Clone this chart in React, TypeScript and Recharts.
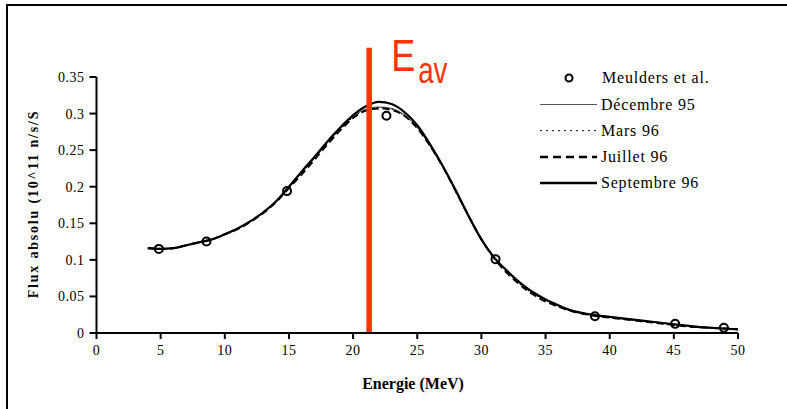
import React from 'react';
import { ComposedChart, Line, Scatter, XAxis, YAxis, ReferenceLine } from 'recharts';

// energy grid of the measured spectra (MeV)
const energies = [4, 5, 6, 7, 8, 9, 10, 11, 12, 13, 14, 15, 16, 17, 18, 19, 20, 21, 22, 23, 24, 25, 26, 27,
  28, 29, 30, 31, 32, 33, 34, 35, 36, 37, 38, 39, 40, 41, 42, 43, 44, 45, 46, 47, 48, 49, 50];

const decembre95 = [0.116, 0.115, 0.116, 0.120, 0.124, 0.128, 0.135, 0.143, 0.153, 0.165, 0.180, 0.199, 0.219,
  0.239, 0.260, 0.279, 0.296, 0.306, 0.309, 0.307, 0.298, 0.281, 0.256, 0.227, 0.194, 0.159, 0.127, 0.103,
  0.084, 0.068, 0.055, 0.045, 0.037, 0.031, 0.027, 0.024, 0.022, 0.020, 0.018, 0.016, 0.014, 0.012, 0.010,
  0.008, 0.007, 0.006, 0.005];

const mars96 = [0.116, 0.115, 0.116, 0.120, 0.124, 0.128, 0.135, 0.143, 0.153, 0.165, 0.180, 0.199, 0.219,
  0.239, 0.259, 0.278, 0.295, 0.305, 0.308, 0.306, 0.297, 0.281, 0.256, 0.227, 0.194, 0.159, 0.127, 0.102,
  0.083, 0.067, 0.054, 0.044, 0.036, 0.030, 0.026, 0.023, 0.021, 0.019, 0.017, 0.015, 0.013, 0.011, 0.010,
  0.008, 0.007, 0.006, 0.005];

const juillet96 = [0.116, 0.115, 0.116, 0.120, 0.124, 0.128, 0.135, 0.142, 0.152, 0.164, 0.179, 0.198, 0.217,
  0.237, 0.258, 0.277, 0.294, 0.304, 0.307, 0.305, 0.297, 0.280, 0.256, 0.227, 0.194, 0.160, 0.128, 0.102,
  0.082, 0.066, 0.053, 0.043, 0.036, 0.030, 0.026, 0.023, 0.021, 0.019, 0.017, 0.015, 0.013, 0.011, 0.009,
  0.008, 0.007, 0.006, 0.005];

const septembre96 = [0.116, 0.115, 0.116, 0.120, 0.124, 0.128, 0.135, 0.143, 0.153, 0.165, 0.180, 0.200, 0.221,
  0.241, 0.262, 0.281, 0.298, 0.310, 0.316, 0.313, 0.302, 0.284, 0.258, 0.228, 0.195, 0.160, 0.128, 0.103,
  0.085, 0.069, 0.056, 0.046, 0.038, 0.031, 0.027, 0.024, 0.022, 0.020, 0.018, 0.016, 0.014, 0.012, 0.010,
  0.008, 0.007, 0.006, 0.005];

// Meulders et al. reference points
const meuldersE = [4.86, 8.57, 14.85, 22.6, 31.1, 38.85, 45.1, 48.9];
const meuldersFlux = [0.115, 0.125, 0.194, 0.297, 0.101, 0.023, 0.0125, 0.0072];

const xTicks = [0, 5, 10, 15, 20, 25, 30, 35, 40, 45, 50];
const yTicks = [0, 0.05, 0.1, 0.15, 0.2, 0.25, 0.3, 0.35];
const eAverage = 21.25;

const toSeries = (vals: number[]) => energies.map((e, i) => ({ x: e, y: vals[i] }));
const meulders = meuldersE.map((e, i) => ({ x: e, y: meuldersFlux[i] }));

const serif = '"Liberation Serif", "Times New Roman", serif';
const tickStyle = { fontSize: 14, fill: '#000', fontFamily: serif, letterSpacing: 0.5 };

const LegendBox = () => {
  const rows = [
    { name: 'Décembre 95', w: 1, dash: undefined, color: '#555' },
    { name: 'Mars 96', w: 1, dash: '2 4', color: '#000' },
    { name: 'Juillet 96', w: 2.5, dash: '8 5', color: '#000' },
    { name: 'Septembre 96', w: 2.5, dash: undefined, color: '#000' },
  ];
  return (
    <svg width={240} height={150} style={{ display: 'block' }}>
      <circle cx={39} cy={18} r={3.5} fill="none" stroke="#000" strokeWidth={2} />
      <text x={72} y={23} fontFamily={serif} fontSize={16} letterSpacing={0.8}>Meulders et al.</text>
      {rows.map((r, i) => {
        const y = 44.5 + i * 26.2;
        return (
          <g key={r.name}>
            <line x1={10} x2={67} y1={y} y2={y} stroke={r.color} strokeWidth={r.w} strokeDasharray={r.dash} />
            <text x={71} y={y + 5} fontFamily={serif} fontSize={16} letterSpacing={0.8}>{r.name}</text>
          </g>
        );
      })}
    </svg>
  );
};

const EavLabel = (props: any) => {
  const vb = props.viewBox || {};
  const x0 = vb.x ?? 369;
  const font = '"Liberation Sans", Arial, sans-serif';
  const ex = x0 + 22;
  const ax = x0 + 49;
  return (
    <g>
      <text x={ex} y={71} fill="#FF3300" fontFamily={font} fontSize={45}
        transform={`translate(${ex} 0) scale(0.8 1) translate(${-ex} 0)`}>E</text>
      <text x={ax} y={83} fill="#FF3300" fontFamily={font} fontSize={37}
        transform={`translate(${ax} 0) scale(0.75 1) translate(${-ax} 0)`}>av</text>
    </g>
  );
};

export default function App() {
  return (
    <div style={{ position: 'absolute', left: 0, top: 0, width: 787, height: 409, background: '#fff' }}>
      <div style={{ position: 'absolute', left: 6, top: 4, width: 781, height: 405, borderTop: '2px solid #000', borderLeft: '2px solid #000' }} />
      <ComposedChart width={787} height={409} margin={{ top: 77, right: 49, left: 0, bottom: 46 }}>
        <XAxis
          type="number"
          dataKey="x"
          domain={[0, 50]}
          ticks={xTicks}
          interval={0}
          height={30}
          tickSize={6}
          tickMargin={6}
          stroke="#000"
          strokeWidth={2}
          tick={tickStyle}
          label={(p: any) => (
            <text x={413} y={389} textAnchor="middle" fontFamily={serif} fontWeight="bold" fontSize={16}>
              Energie (MeV)
            </text>
          )}
        />
        <YAxis
          type="number"
          domain={[0, 0.35]}
          ticks={yTicks}
          interval={0}
          width={96.5}
          tickSize={7}
          tickMargin={5}
          stroke="#000"
          strokeWidth={2}
          tick={tickStyle}
          label={(p: any) => (
            <text x={38} y={204} transform="rotate(-90, 38, 204)" textAnchor="middle" fontFamily={serif}
              fontWeight="bold" fontSize={14} letterSpacing={1.8}>
              Flux absolu (10^11 n/s/S
            </text>
          )}
        />
        <Line data={toSeries(decembre95)} dataKey="y" name="Décembre 95" type="monotone" stroke="#444"
          strokeWidth={1} dot={false} isAnimationActive={false} />
        <Line data={toSeries(mars96)} dataKey="y" name="Mars 96" type="monotone" stroke="#000"
          strokeWidth={1} strokeDasharray="2 3" dot={false} isAnimationActive={false} />
        <Line data={toSeries(juillet96)} dataKey="y" name="Juillet 96" type="monotone" stroke="#000"
          strokeWidth={2} strokeDasharray="7 4" dot={false} isAnimationActive={false} />
        <Line data={toSeries(septembre96)} dataKey="y" name="Septembre 96" type="monotone" stroke="#000"
          strokeWidth={2.2} dot={false} isAnimationActive={false} />
        <Scatter data={meulders} dataKey="y" name="Meulders et al." isAnimationActive={false}
          shape={(p: any) => <circle cx={p.cx} cy={p.cy} r={4} fill="none" stroke="#000" strokeWidth={2} />} />
        <ReferenceLine
          segment={[{ x: eAverage, y: 0 }, { x: eAverage, y: 0.39 }]}
          ifOverflow="visible"
          stroke="#FF3300"
          strokeWidth={5.5}
          label={EavLabel}
        />
      </ComposedChart>
      <div style={{ position: 'absolute', left: 530, top: 60 }}>
        <LegendBox />
      </div>
    </div>
  );
}
